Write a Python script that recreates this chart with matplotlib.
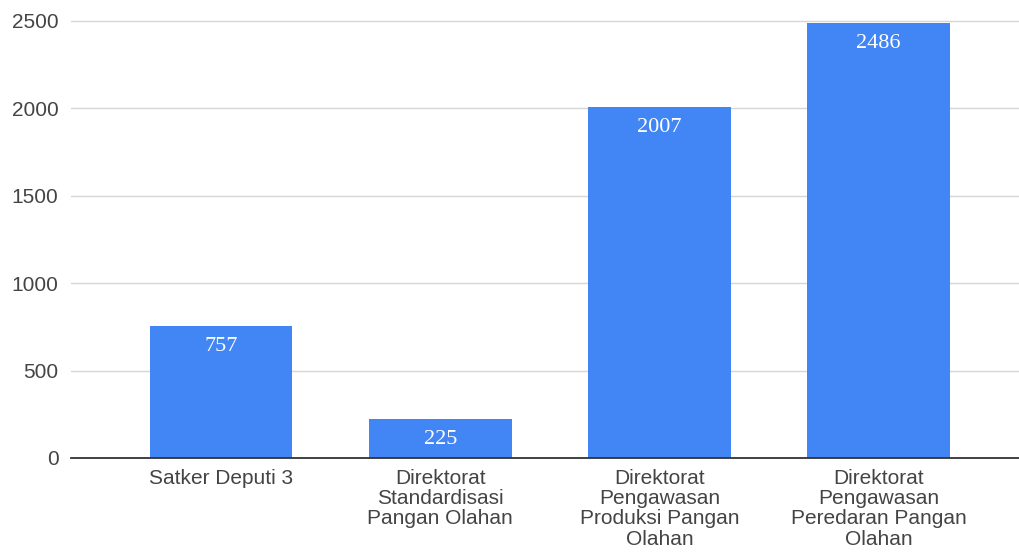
import matplotlib.pyplot as plt

# Data
categories = [
    "Satker Deputi 3",
    "Direktorat\nStandardisasi\nPangan Olahan",
    "Direktorat\nPengawasan\nProduksi Pangan\nOlahan",
    "Direktorat\nPengawasan\nPeredaran Pangan\nOlahan",
]
values = [757, 225, 2007, 2486]
yticks = [0, 500, 1000, 1500, 2000, 2500]

bar_color = "#4285F4"
text_color = "#444444"

fig = plt.figure(figsize=(10.19, 5.56), dpi=100)
ax = fig.add_axes([0.0697, 0.1763, 0.9303, 0.7895])

x = list(range(len(values)))
bars = ax.bar(x, values, width=0.65, color=bar_color, zorder=3)

# value labels inside top of bars
for b, v in zip(bars, values):
    ax.annotate(str(v), (b.get_x() + b.get_width() / 2, b.get_height()),
                xytext=(0, -8), textcoords="offset points",
                ha="center", va="top", color="white",
                fontsize=16, family="Liberation Serif", zorder=4)

ax.set_xlim(-0.685, 3.64)
ax.set_ylim(0, 2511)
ax.set_yticks(yticks)
ax.set_yticklabels([str(t) for t in yticks], family="Liberation Sans",
                   fontsize=15, color=text_color)
ax.set_xticks(x)
ax.set_xticklabels(categories, family="Liberation Sans", fontsize=15,
                   color=text_color, linespacing=1.08)

ax.tick_params(axis="y", length=0, pad=9)
ax.tick_params(axis="x", length=0, pad=8)
ax.grid(axis="y", color="#d6d6d6", linewidth=1, zorder=0)

for s in ["top", "right", "left"]:
    ax.spines[s].set_visible(False)
ax.spines["bottom"].set_color("#333333")
ax.spines["bottom"].set_linewidth(1.3)
ax.spines["bottom"].set_zorder(5)

fig.savefig("out.png", dpi=100)
